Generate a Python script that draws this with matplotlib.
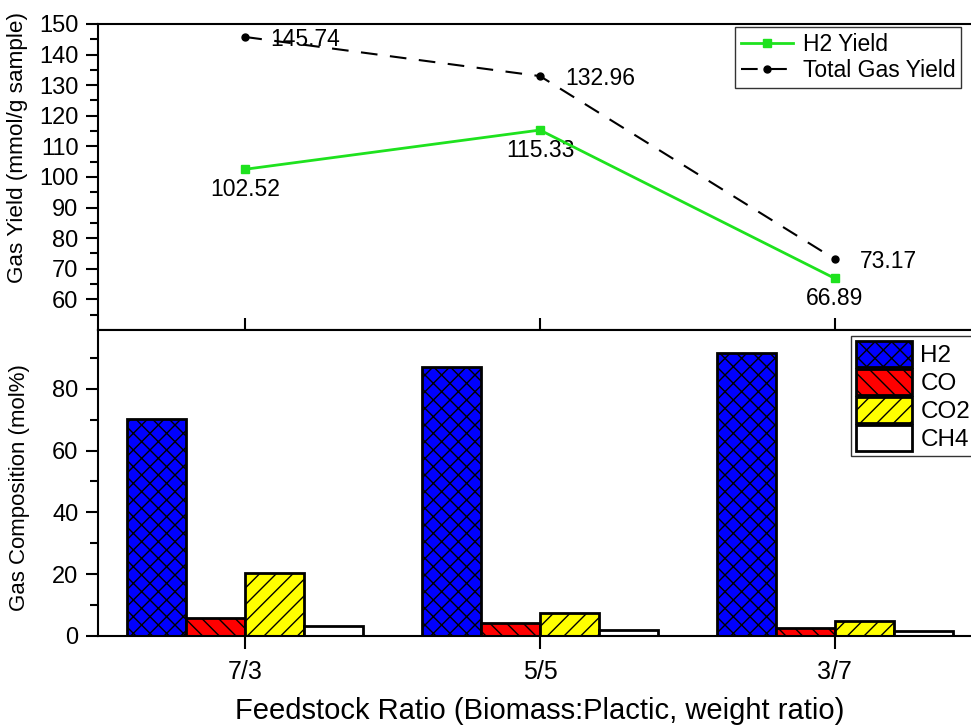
import matplotlib.pyplot as plt
import numpy as np

plt.rcParams['font.family'] = ['Liberation Sans', 'DejaVu Sans']
plt.rcParams['hatch.linewidth'] = 1.0
plt.rcParams['hatch.color'] = 'black'

ratios = ['7/3', '5/5', '3/7']
h2_yield = [102.52, 115.33, 66.89]
total_yield = [145.74, 132.96, 73.17]

gases = ['H2', 'CO', 'CO2', 'CH4']
h2_comp = [70.3, 87.0, 91.5]
co_comp = [5.7, 4.1, 2.5]
co2_comp = [20.4, 7.3, 4.8]
ch4_comp = [3.2, 1.9, 1.6]

green = '#1ee21e'
x = np.arange(len(ratios))

fig = plt.figure(figsize=(9.71, 7.26), dpi=100)
ax1 = fig.add_axes([0.1009, 0.5455, 0.9104, 0.4215])
ax2 = fig.add_axes([0.1009, 0.124, 0.9104, 0.4215])

# top panel: yields
ax1.plot(x, h2_yield, color=green, lw=2, marker='s', ms=6, label='H2 Yield')
ax1.plot(x, total_yield, color='black', lw=1.5, ls='--', dashes=(8, 6),
         marker='o', ms=5, label='Total Gas Yield')
ax1.set_xlim(-0.5, 2.5)
ax1.set_ylim(50, 150)
ax1.set_yticks(np.arange(60, 151, 10))
ax1.set_yticks(np.arange(55, 150, 10), minor=True)
ax1.set_xticks(x)
ax1.tick_params(axis='y', which='major', direction='out', length=9, width=1.5,
                labelsize=17, pad=5)
ax1.tick_params(axis='y', which='minor', direction='out', length=6, width=1.5)
ax1.tick_params(axis='x', which='major', direction='in', length=9, width=1.5,
                labelbottom=False)
ax1.set_ylabel('Gas Yield (mmol/g sample)', fontsize=16.2)
ax1.yaxis.set_label_coords(-0.079, 0.595)

for xi, v in zip(x, total_yield):
    ax1.annotate(f'{v:.2f}', (xi, v), xytext=(18, -1.5), textcoords='offset points',
                 ha='left', va='center', fontsize=16.5, zorder=1.5)
for xi, v in zip(x, h2_yield):
    ax1.annotate(f'{v:.2f}', (xi, v), xytext=(0, -14.5), textcoords='offset points',
                 ha='center', va='center', fontsize=16.5, zorder=1.5)

leg1 = ax1.legend(loc='upper left', bbox_to_anchor=(0.7206, 0.99), fontsize=16.5,
                  frameon=True, fancybox=False, framealpha=1, edgecolor='#333333',
                  borderaxespad=0, borderpad=0.25, handlelength=2.3,
                  handletextpad=0.4, labelspacing=0.15)
leg1.get_frame().set_linewidth(1)

# bottom panel: composition bars
width = 0.2
comps = [h2_comp, co_comp, co2_comp, ch4_comp]
colors = ['#0000ff', '#ff0000', '#ffff00', 'white']
hatches = ['xx', '\\\\', '//', '']
offsets = [-1.5, -0.5, 0.5, 1.5]
for gas, vals, c, h, off in zip(gases, comps, colors, hatches, offsets):
    ax2.bar(x + off * width, vals, width, color=c, edgecolor='black', lw=2,
            hatch=h, label=gas)

ax2.set_xlim(-0.5, 2.5)
ax2.set_ylim(0, 99)
ax2.set_yticks(np.arange(0, 81, 20))
ax2.set_yticks(np.arange(10, 100, 20), minor=True)
ax2.set_xticks(x)
ax2.set_xticklabels(ratios)
ax2.tick_params(axis='y', which='major', direction='out', length=9, width=1.5,
                labelsize=17, pad=5)
ax2.tick_params(axis='y', which='minor', direction='out', length=6, width=1.5)
ax2.tick_params(axis='x', which='major', direction='out', length=9, width=1.5,
                labelsize=18, pad=8)
ax2.set_ylabel('Gas Composition (mol%)', fontsize=16)
ax2.yaxis.set_label_coords(-0.077, 0.485)
ax2.set_xlabel('Feedstock Ratio (Biomass:Plactic, weight ratio)', fontsize=21)
ax2.xaxis.set_label_coords(0.5, -0.2)

leg2 = ax2.legend(loc='upper left', bbox_to_anchor=(0.852, 0.98), fontsize=17.5,
                  frameon=True, fancybox=False, framealpha=1, edgecolor='#333333',
                  borderaxespad=0, borderpad=0.2, handlelength=2.3,
                  handleheight=1.25, handletextpad=0.35, labelspacing=0.08)
leg2.get_frame().set_linewidth(1)

for ax in (ax1, ax2):
    for s in ax.spines.values():
        s.set_linewidth(1.5)

fig.savefig('out.png', dpi=100)
